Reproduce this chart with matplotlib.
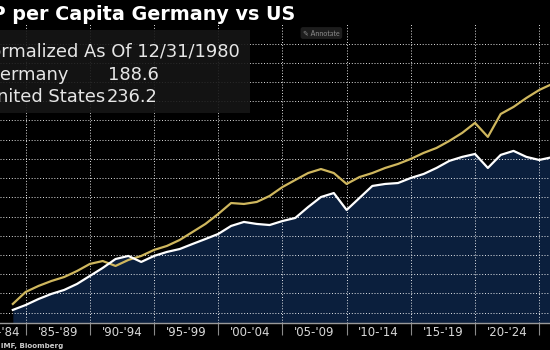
import matplotlib
matplotlib.use("Agg")
import matplotlib.pyplot as plt
from matplotlib.patches import Rectangle

# annual real GDP per capita, indexed to 100 at 12/31/1980
years = list(range(1983, 2026))
us = [93.2, 101.0, 104.9, 108.1, 110.7, 114.6, 119.2, 121.1, 117.9, 121.8,
      124.4, 128.3, 130.9, 134.8, 140.0, 145.2, 151.7, 158.8, 158.2, 159.5,
      163.4, 169.2, 173.8, 178.3, 180.9, 178.3, 171.2, 175.7, 178.3, 181.6,
      184.2, 187.5, 191.4, 194.6, 199.2, 204.4, 210.9, 201.8, 216.7, 221.3,
      227.1, 232.3, 236.2]
germany = [89.3, 92.5, 96.4, 99.7, 102.3, 106.2, 111.4, 116.6, 122.4, 124.4,
           120.5, 124.4, 127.0, 128.9, 132.2, 135.4, 138.7, 143.9, 146.5, 145.2,
           144.5, 147.1, 149.1, 156.2, 162.7, 165.3, 154.3, 162.1, 169.9, 171.2,
           171.8, 175.1, 177.7, 181.6, 186.2, 188.8, 190.7, 181.6, 190.1, 192.7,
           188.8, 186.8, 188.6]
period_starts = [1980, 1985, 1990, 1995, 2000, 2005, 2010, 2015, 2020]
period_labels = ["'80-'84", "'85-'89", "'90-'94", "'95-'99", "'00-'04",
                 "'05-'09", "'10-'14", "'15-'19", "'20-'24"]
title = "GDP per Capita Germany vs US"
header = "Normalized As Of 12/31/1980"
names = ["Germany", "United States"]
last_vals = ["188.6", "236.2"]
source = "Source: IMF, Bloomberg"

W, H = 550, 350
YELLOW = "#cfb75e"
NAVY = "#0b1f3d"

fig = plt.figure(figsize=(5.5, 3.5), dpi=100, facecolor="black")
ax = fig.add_axes([0, 1 - 323 / H, 1, (323 - 24) / H])
ax.set_facecolor("black")

# points sit at year end (12/31)
xs = [y + 1.0 for y in years]
ax.fill_between(xs, germany, 0, color=NAVY, lw=0, zorder=1)
ax.plot(xs, us, color=YELLOW, lw=1.6, zorder=4)
ax.plot(xs, germany, color="white", lw=1.6, zorder=4)

ax.set_xlim(1984.0, 2025.84)
ax.set_ylim(80.8, 275.2)

ax.set_yticks([87.5 + 12.5 * i for i in range(15)])
ax.tick_params(axis="y", left=False, labelleft=False)
ax.set_xticks([s + 5 for s in period_starts])
ax.set_xticklabels([])
centers = [s + 2.5 for s in period_starts]
centers[0] = 1983.0  # first period is only partly in view
ax.set_xticks(centers, minor=True)
ax.set_xticklabels(period_labels, minor=True, fontsize=8.5, color="#d8d8d8",
                   family="DejaVu Sans")
ax.tick_params(axis="x", which="major", direction="out", length=8.5,
               width=0.8, color="#8a8a8a")
ax.tick_params(axis="x", which="minor", length=0, pad=2.5)
ax.grid(True, which="major", color=(1, 1, 1, 0.13), lw=0.6,
        ls=(0, (1.2, 2.2)), zorder=3)
ax.set_axisbelow(False)
for s in ["top", "left", "right"]:
    ax.spines[s].set_visible(False)
ax.spines["bottom"].set_color("#9a9a9a")
ax.spines["bottom"].set_linewidth(1)
ax.spines["bottom"].set_zorder(5)

# title, cut at the left edge as in the crop
fig.text(295 / W, 1 - 20 / H, title, ha="right", va="baseline",
         fontsize=13.8, weight="bold", color="white", family="DejaVu Sans")

# legend box
fig.patches.append(Rectangle((-0.05, 1 - 113 / H), 0.05 + 250 / W, 83 / H,
                             transform=fig.transFigure, fc=(0.085, 0.085, 0.085, 0.9),
                             ec="none", zorder=6))
lkw = dict(fontsize=12.9, color="#e6e6e6", family="DejaVu Sans",
           va="baseline", zorder=7)
fig.text(240 / W, 1 - 57 / H, header, ha="right", **lkw)
fig.text(-14 / W, 1 - 80 / H, names[0], ha="left", **lkw)
fig.text(-16 / W, 1 - 102 / H, names[1], ha="left", **lkw)
fig.text(108 / W, 1 - 80 / H, last_vals[0], ha="left", **lkw)
fig.text(107 / W, 1 - 102 / H, last_vals[1], ha="left", **lkw)

fig.text(303 / W, 1 - 33 / H, "\u270e Annotate", fontsize=5, color="#8c8c8c",
         va="center", ha="left", family=["Lato", "DejaVu Sans"],
         bbox=dict(boxstyle="round,pad=0.35", fc="#1d1d1d", ec="none"))

fig.text(63 / W, 1 - 348 / H, source, ha="right", va="baseline",
         fontsize=5.1, weight="bold", color="#cccccc", family="DejaVu Sans")

fig.savefig("out.png", dpi=100, facecolor="black")
